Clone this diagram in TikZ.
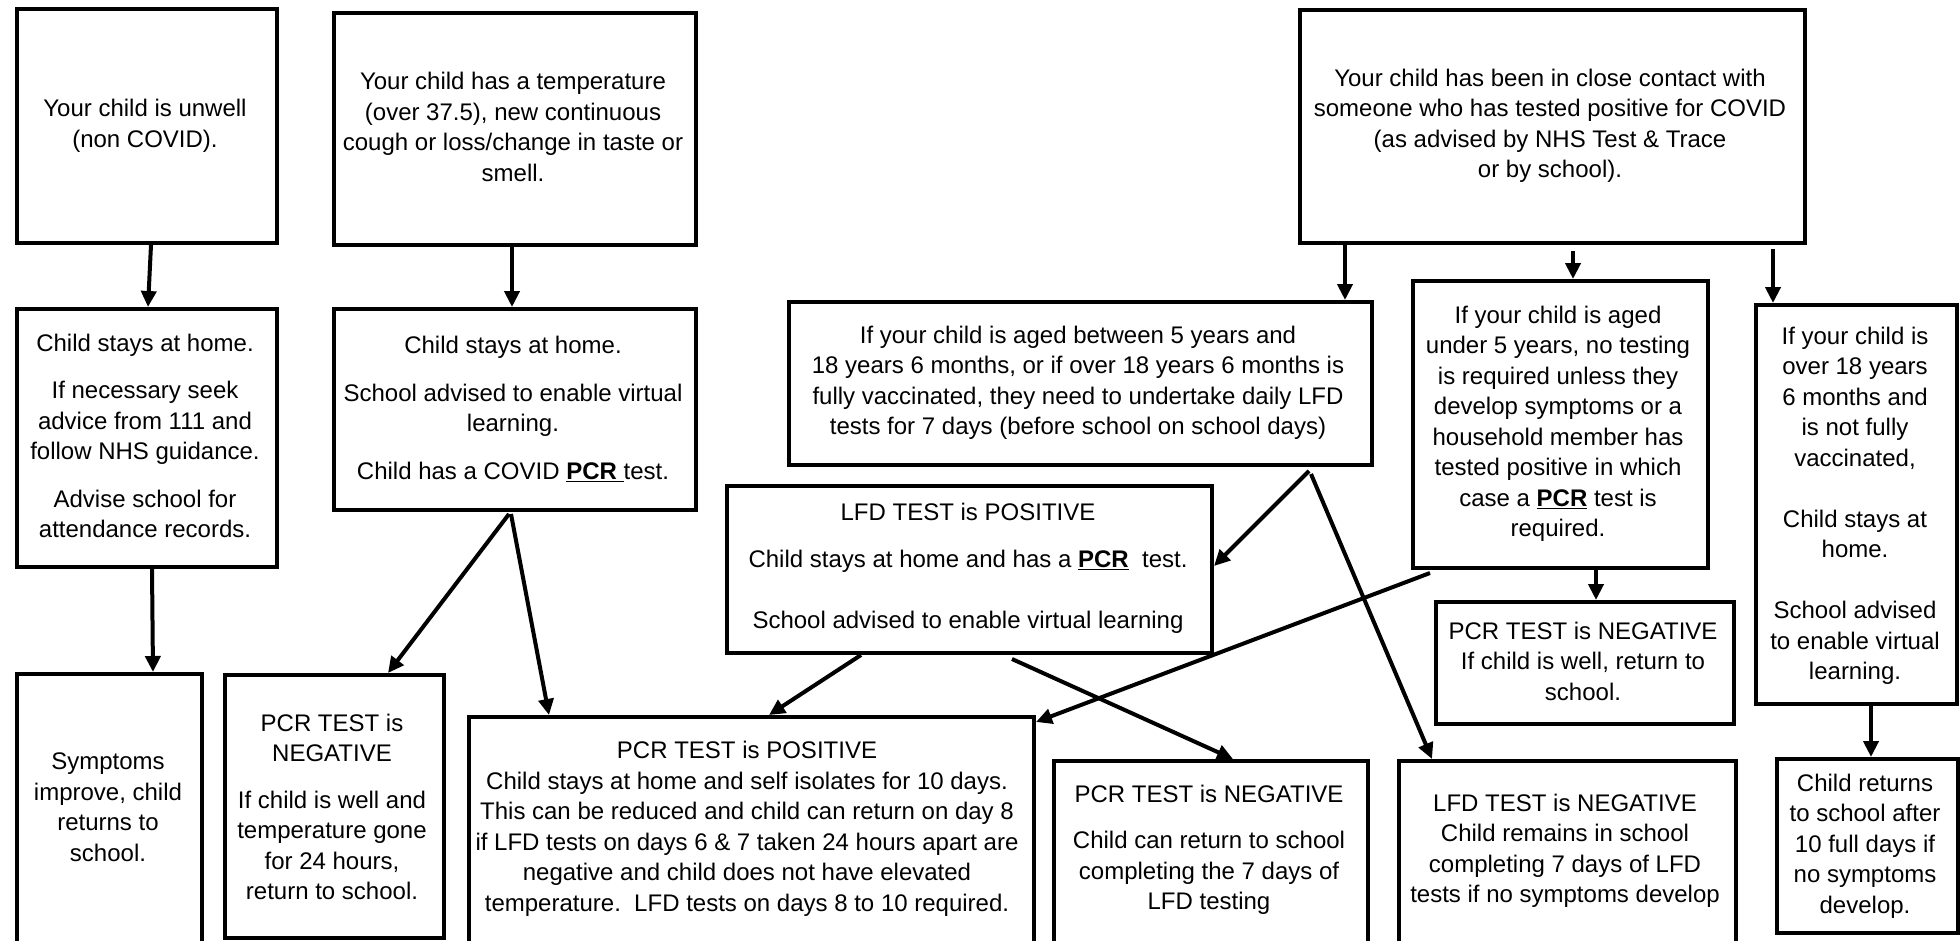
\documentclass[tikz,border=0pt]{standalone}
\usepackage{fontspec}
\setmainfont{Liberation Sans}
\usetikzlibrary{arrows.meta,calc}
\begin{document}
\begin{tikzpicture}[x=1pt,y=-1pt,
  box/.style={draw, line width=4pt, inner sep=0pt, anchor=north west},
  txt/.style={align=center, font=\fontsize{24pt}{30.5pt}\selectfont, inner sep=0pt},
  arr/.style={line width=4pt, -{Triangle[length=16pt,width=15pt]}}]
\useasboundingbox (0,0) rectangle (1960,940);
\clip (0,0) rectangle (1960,940);
\fill[white] (0,0) rectangle (1960,940);

% boxes
\node[box, minimum width=260pt, minimum height=234pt] (A) at (15,7) {};
\node[box, minimum width=362pt, minimum height=232pt] (B) at (332,11) {};
\node[box, minimum width=260pt, minimum height=258pt] (C) at (15,307) {};
\node[box, minimum width=362pt, minimum height=201pt] (D) at (332,307) {};
\node[box, minimum width=185pt, minimum height=300pt] (E) at (15,672) {};
\node[box, minimum width=219pt, minimum height=263pt] (F) at (223,673) {};
\node[box, minimum width=565pt, minimum height=260pt] (G) at (467,715) {};
\node[box, minimum width=583pt, minimum height=163pt] (H) at (787,300) {};
\node[box, minimum width=505pt, minimum height=233pt] (I) at (1298,8) {};
\node[box, minimum width=295pt, minimum height=287pt] (J) at (1411,279) {};
\node[box, minimum width=201pt, minimum height=399pt] (K) at (1754,303) {};
\node[box, minimum width=298pt, minimum height=122pt] (L) at (1434,600) {};
\node[box, minimum width=181pt, minimum height=174pt] (M) at (1775,757) {};
\node[box, minimum width=337pt, minimum height=220pt] (N) at (1397,759) {};
\node[box, minimum width=485pt, minimum height=167pt] (O) at (725,484) {};
\node[box, minimum width=314pt, minimum height=220pt] (P) at (1052,759) {};

% texts
\node[txt] (At) at (145,126) {Your child is unwell\\(non COVID).};
\node[txt] (Bt) at (513,127) {Your child has a temperature\\(over 37.5), new continuous\\cough or loss/change in taste or\\smell.};
\node[txt] (Ct) at (145,436) {Child stays at home.\\[17pt]If necessary seek\\advice from 111 and\\follow NHS guidance.\\[17pt]Advise school for\\attendance records.};
\node[txt] (Dt) at (513,409) {Child stays at home.\\[17pt]School advised to enable virtual\\learning.\\[17pt]Child has a COVID \textbf{\underline{PCR }}test.};
\node[txt] (Et) at (108,807) {Symptoms\\improve, child\\returns to\\school.};
\node[txt] (Ft) at (332,807) {PCR TEST is\\NEGATIVE\\[16pt]If child is well and\\temperature gone\\for 24 hours,\\return to school.};
\node[txt] (Gt) at (747,829) {PCR TEST is POSITIVE\\Child stays at home and self isolates for 10 days.\\This can be reduced and child can return on day 8\\if LFD tests on days 6 \& 7 taken 24 hours apart are\\negative and child does not have elevated\\temperature.\ \ LFD tests on days 8 to 10 required.};
\node[txt] (Ht) at (1078,383) {If your child is aged between 5 years and\\18 years 6 months, or if over 18 years 6 months is\\fully vaccinated, they need to undertake daily LFD\\tests for 7 days (before school on school days)};
\node[txt] (It) at (1550,126) {Your child has been in close contact with\\someone who has tested positive for COVID\\(as advised by NHS Test \& Trace\\or by school).};
\node[txt] (Jt) at (1558,424) {If your child is aged\\under 5 years, no testing\\is required unless they\\develop symptoms or a\\household member has\\tested positive in which\\case a \textbf{\underline{PCR}} test is\\required.};
\node[txt] (Kt) at (1855,506) {If your child is\\over 18 years\\6 months and\\is not fully\\vaccinated,\\[30.5pt]Child stays at\\home.\\[30.5pt]School advised\\to enable virtual\\learning.};
\node[txt] (Lt) at (1583,661) {PCR TEST is NEGATIVE\\If child is well, return to\\school.};
\node[txt] (Mt) at (1865,846) {Child returns\\to school after\\10 full days if\\no symptoms\\develop.};
\node[txt] (Nt) at (1565,851) {LFD TEST is NEGATIVE\\Child remains in school\\completing 7 days of LFD\\tests if no symptoms develop};
\node[txt] (Ot) at (968,568) {LFD TEST is POSITIVE\\[17pt]Child stays at home and has a \textbf{\underline{PCR}}\ \ test.\\[30pt]School advised to enable virtual learning};
\node[txt] (Pt) at (1209,850) {PCR TEST is NEGATIVE\\[16pt]Child can return to school\\completing the 7 days of\\LFD testing};

% connectors
\draw[arr] ($(A.south west)+(136,0)$) -- ($(C.north west)+(133,0)$);
\draw[arr] ($(B.south west)+(180,0)$) -- ($(D.north west)+(180,0)$);
\draw[arr] ($(C.south west)+(137,0)$) -- ($(E.north west)+(138,0)$);
\draw[arr] ($(D.south west)+(177,2)$) -- ($(F.north west)+(165,0)$);
\draw[arr] ($(D.south west)+(179,2)$) -- ($(G.north west)+(82,0)$);
\draw[arr] ($(I.south west)+(47,0)$) -- ($(H.north west)+(558,0)$);
\draw[arr] ($(I.south west)+(275,6)$) -- ($(J.north west)+(162,0)$);
\draw[arr] ($(I.south west)+(475,4)$) -- ($(K.north west)+(19,0)$);
\draw[arr] ($(H.south west)+(522,4)$) -- ($(O.north east)+(0,82)$);
\draw[arr] ($(H.south west)+(524,7)$) -- ($(N.north west)+(35,0)$);
\draw[arr] ($(O.south west)+(136,0)$) -- ($(G.north west)+(302,0)$);
\draw[arr] ($(O.south west)+(287,4)$) -- ($(P.north west)+(181,0)$);
\draw[arr] ($(J.south west)+(19,3)$) -- ($(G.north east)+(0,7)$);
\draw[arr] ($(J.south west)+(185,0)$) -- ($(L.north west)+(162,0)$);
\draw[arr] ($(K.south west)+(117,0)$) -- ($(M.north west)+(96,0)$);
\end{tikzpicture}
\end{document}
